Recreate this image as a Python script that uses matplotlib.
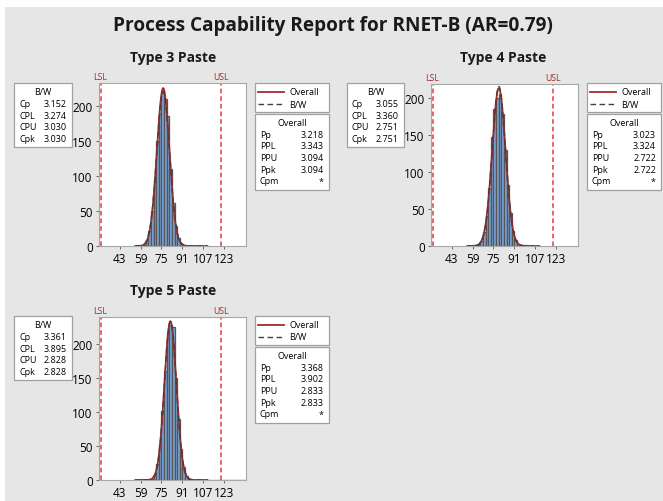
import matplotlib.pyplot as plt
import numpy as np
from matplotlib.patches import Rectangle
from matplotlib.lines import Line2D

plt.rcParams['font.family'] = ['Open Sans', 'DejaVu Sans']

# ---------------------------------------------
# Data read from the report
# ---------------------------------------------
lsl, usl = 28.5, 120.5
bin_start = 59.0
bin_width = 2.0

counts3 = [1, 2, 8, 22, 50, 95, 150, 190, 218, 210, 186, 110, 62, 28, 11, 4, 1]
counts4 = [1, 1, 2, 7, 19, 41, 78, 147, 185, 200, 205, 178, 130, 82, 45, 20, 8, 3, 1, 2, 1]
counts5 = [1, 0, 0, 0, 2, 8, 23, 53, 101, 160, 215, 228, 225, 150, 90, 45, 19, 6, 2]
max_obs = [94.0, 101.0, 139.0]

bw_labels = ["Cp", "CPL", "CPU", "Cpk"]
ov_labels = ["Pp", "PPL", "PPU", "Ppk", "Cpm"]
bw3 = ["3.152", "3.274", "3.030", "3.030"]
ov3 = ["3.218", "3.343", "3.094", "3.094", "*"]
bw4 = ["3.055", "3.360", "2.751", "2.751"]
ov4 = ["3.023", "3.324", "2.722", "2.722", "*"]
bw5 = ["3.361", "3.895", "2.828", "2.828"]
ov5 = ["3.368", "3.902", "2.833", "2.833", "*"]

x_ticks = [43, 59, 75, 91, 107, 123]
y_ticks = [0, 50, 100, 150, 200]

W, H = 663, 502
fig = plt.figure(figsize=(W / 100, H / 100), dpi=100, facecolor='white')

# overlay in pixel coordinates for boxes and text
ov = fig.add_axes([0, 0, 1, 1])
ov.set_xlim(0, W)
ov.set_ylim(H, 0)
ov.axis('off')
ov.add_patch(Rectangle((5, 8), W - 5, H - 8, facecolor='#e6e6e6', edgecolor='none', zorder=0))
ov.text(333, 26, "Process Capability Report for RNET-B (AR=0.79)", ha='center', va='center',
        fontsize=13.7, fontweight='bold', color='#1a1a1a')

dark_red = '#a52a2a'
fs_box = 6.5


def px_axes(l, t, r, b):
    return fig.add_axes([l / W, 1 - b / H, (r - l) / W, (b - t) / H])


def stat_box(box, header, labels, values, dy):
    l, t, r, b = box
    ov.add_patch(Rectangle((l, t), r - l, b - t, facecolor='white', edgecolor='#a0a0a0', lw=0.9, zorder=2))
    ov.text((l + r) / 2, t + 8.5, header, ha='center', va='center', fontsize=fs_box, zorder=3)
    for i, (lab, val) in enumerate(zip(labels, values)):
        y = t + 8.5 + dy * (i + 1)
        ov.text(l + 5, y, lab, ha='left', va='center', fontsize=fs_box, zorder=3)
        ov.text(r - 5, y, val, ha='right', va='center', fontsize=fs_box, zorder=3)


def legend_box(box):
    l, t, r, b = box
    ov.add_patch(Rectangle((l, t), r - l, b - t, facecolor='white', edgecolor='#a0a0a0', lw=0.9, zorder=2))
    ov.add_line(Line2D([l + 3, l + 29], [t + 8.5, t + 8.5], color=dark_red, lw=1.3, zorder=3))
    ov.add_line(Line2D([l + 3, l + 29], [t + 21, t + 21], color='#404040', lw=1, ls=(0, (4, 2.5)), zorder=3))
    ov.text(l + 34, t + 8.5, "Overall", ha='left', va='center', fontsize=fs_box, zorder=3)
    ov.text(l + 34, t + 21, "B/W", ha='left', va='center', fontsize=fs_box, zorder=3)


panels = [
    dict(title="Type 3 Paste", counts=counts3, bw=bw3, ov=ov3, max_obs=max_obs[0],
         ax_box=(99, 84, 246, 247), ytop=233, tx=173, ty=58, lb=(14, 84, 72, 148), rx=255, ry=84),
    dict(title="Type 4 Paste", counts=counts4, bw=bw4, ov=ov4, max_obs=max_obs[1],
         ax_box=(431, 85, 578, 247), ytop=219, tx=503, ty=58, lb=(347, 84, 404, 148), rx=587, ry=84),
    dict(title="Type 5 Paste", counts=counts5, bw=bw5, ov=ov5, max_obs=max_obs[2],
         ax_box=(99, 318, 246, 481), ytop=239, tx=173, ty=291, lb=(14, 317, 72, 381), rx=255, ry=317),
]

for p in panels:
    counts = np.array(p['counts'])
    edges = bin_start + bin_width * np.arange(len(counts))
    ax = px_axes(*p['ax_box'])
    ax.set_facecolor('white')

    # zero-height bins up to the largest observation (outlines only)
    tail = np.arange(edges[-1] + bin_width, p['max_obs'], bin_width)
    ax.bar(tail, np.zeros(len(tail)), width=bin_width, align='edge',
           edgecolor='#555555', linewidth=0.9, color='#7aa5d8')
    ax.bar(edges, counts, width=bin_width, align='edge', color='#7aa5d8',
           edgecolor='#555555', linewidth=0.9)

    # fitted normal curves from the indices
    n = counts.sum()
    cp, cpl = float(p['bw'][0]), float(p['bw'][1])
    pp, ppl = float(p['ov'][0]), float(p['ov'][1])
    s_w = (usl - lsl) / (6 * cp)
    m_w = lsl + cpl * 3 * s_w
    s_o = (usl - lsl) / (6 * pp)
    m_o = lsl + ppl * 3 * s_o
    xs = np.linspace(55, 110, 400)
    y_o = n * bin_width * np.exp(-0.5 * ((xs - m_o) / s_o) ** 2) / (s_o * np.sqrt(2 * np.pi))
    y_w = n * bin_width * np.exp(-0.5 * ((xs - m_w) / s_w) ** 2) / (s_w * np.sqrt(2 * np.pi))
    ax.plot(xs, y_o, color=dark_red, lw=1.3)
    ax.plot(xs, y_w, color='#404040', lw=1, ls=(0, (4, 2.5)))

    for spec, lab in [(lsl, "LSL"), (usl, "USL")]:
        ax.axvline(spec, color='#e03a3a', lw=1.1, ls=(0, (3, 2)))
        ax.text(spec, p['ytop'] * 1.012, lab, transform=ax.transData, ha='center', va='bottom',
                fontsize=6.3, color='#a52a2a', clip_on=False)

    ax.set_xlim(27.3, 139.5)
    ax.set_ylim(0, p['ytop'])
    ax.set_xticks(x_ticks)
    ax.set_yticks(y_ticks)
    ax.tick_params(labelsize=8.5, length=2.5, width=0.7, color='#666666', pad=2)
    for s in ax.spines.values():
        s.set_color('#a8a8a8')
        s.set_linewidth(0.8)

    ov.text(p['tx'], p['ty'], p['title'], ha='center', va='center', fontsize=10,
            fontweight='bold', color='#1a1a1a')
    stat_box(p['lb'], "B/W", bw_labels, p['bw'], 11.8)
    legend_box((p['rx'], p['ry'], p['rx'] + 74, p['ry'] + 29))
    stat_box((p['rx'], p['ry'] + 31, p['rx'] + 74, p['ry'] + 107), "Overall", ov_labels, p['ov'], 11.7)

fig.savefig('out.png', dpi=100, facecolor=fig.get_facecolor())
